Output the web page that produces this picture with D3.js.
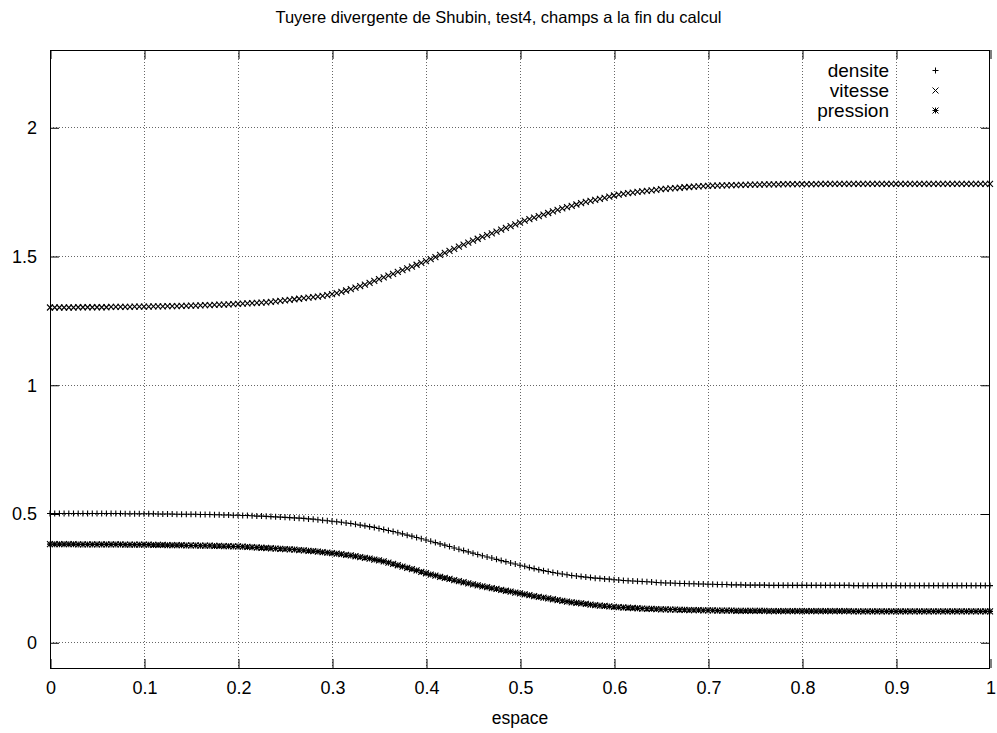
<!DOCTYPE html>
<html>
<head>
<meta charset="utf-8">
<script src="https://cdn.jsdelivr.net/npm/d3@7"></script>
<style>
  body { margin: 0; background: #fff; }
  text { font-family: "Liberation Sans", Arial, sans-serif; fill: #000; }
</style>
</head>
<body>
<div class="chart"></div>
<script>
// tick labels
const xTicks = [0, 0.1, 0.2, 0.3, 0.4, 0.5, 0.6, 0.7, 0.8, 0.9, 1];
const yTicks = [0, 0.5, 1, 1.5, 2];

// 201 cells, x from 0 to 1
const espace = d3.range(201).map(i => i / 200);

const densite = [
  0.500,0.500,0.500,0.500,0.500,0.500,0.500,0.500,0.500,0.500,0.500,
  0.500,0.500,0.500,0.500,0.500,0.499,0.499,0.499,0.499,0.499,
  0.499,0.499,0.498,0.498,0.498,0.498,0.497,0.497,0.497,0.497,
  0.497,0.496,0.496,0.496,0.495,0.495,0.494,0.494,0.493,0.493,
  0.492,0.492,0.491,0.490,0.490,0.489,0.488,0.487,0.486,0.485,
  0.484,0.483,0.482,0.481,0.479,0.478,0.476,0.474,0.472,0.470,
  0.468,0.466,0.463,0.461,0.458,0.455,0.452,0.449,0.446,0.442,
  0.438,0.434,0.430,0.425,0.421,0.416,0.412,0.407,0.402,0.397,
  0.392,0.387,0.382,0.377,0.372,0.366,0.361,0.356,0.351,0.346,
  0.341,0.336,0.331,0.327,0.322,0.317,0.313,0.308,0.304,0.299,
  0.295,0.290,0.286,0.282,0.278,0.275,0.271,0.268,0.265,0.262,
  0.259,0.257,0.255,0.253,0.251,0.249,0.248,0.246,0.245,0.243,
  0.242,0.240,0.239,0.238,0.237,0.236,0.235,0.234,0.232,0.231,
  0.230,0.230,0.229,0.228,0.228,0.227,0.227,0.226,0.226,0.225,
  0.225,0.224,0.224,0.224,0.223,0.223,0.223,0.222,0.222,0.222,
  0.222,0.222,0.221,0.221,0.221,0.221,0.221,0.221,0.221,0.221,
  0.221,0.221,0.221,0.221,0.221,0.221,0.221,0.221,0.221,0.221,
  0.220,0.220,0.220,0.220,0.220,0.220,0.220,0.220,0.220,0.220,
  0.220,0.220,0.220,0.220,0.220,0.220,0.220,0.220,0.220,0.220,
  0.220,0.220,0.220,0.220,0.220,0.220,0.220,0.220,0.220,0.220
];

const vitesse = [
  1.300,1.300,1.300,1.300,1.300,1.300,1.301,1.301,1.301,1.301,1.301,
  1.301,1.301,1.302,1.302,1.302,1.302,1.302,1.303,1.303,1.303,
  1.303,1.304,1.304,1.304,1.305,1.305,1.305,1.306,1.306,1.307,
  1.307,1.308,1.309,1.309,1.310,1.311,1.311,1.312,1.313,1.314,
  1.315,1.316,1.317,1.318,1.319,1.320,1.322,1.324,1.326,1.328,
  1.330,1.332,1.334,1.336,1.338,1.340,1.342,1.345,1.348,1.352,
  1.356,1.361,1.366,1.371,1.377,1.383,1.389,1.396,1.403,1.410,
  1.417,1.424,1.431,1.438,1.445,1.452,1.459,1.466,1.473,1.480,
  1.488,1.496,1.504,1.512,1.520,1.528,1.536,1.544,1.552,1.560,
  1.567,1.574,1.581,1.588,1.595,1.602,1.609,1.616,1.623,1.630,
  1.637,1.643,1.649,1.655,1.661,1.667,1.673,1.679,1.685,1.690,
  1.695,1.700,1.705,1.710,1.714,1.718,1.722,1.726,1.731,1.735,
  1.738,1.741,1.744,1.746,1.749,1.751,1.753,1.755,1.757,1.760,
  1.761,1.763,1.764,1.765,1.767,1.768,1.769,1.770,1.771,1.772,
  1.773,1.773,1.774,1.774,1.775,1.775,1.776,1.776,1.777,1.777,
  1.777,1.778,1.778,1.778,1.778,1.779,1.779,1.779,1.779,1.779,
  1.779,1.779,1.779,1.780,1.780,1.780,1.780,1.780,1.780,1.780,
  1.780,1.780,1.780,1.780,1.780,1.780,1.780,1.780,1.780,1.780,
  1.780,1.780,1.780,1.780,1.780,1.780,1.780,1.780,1.780,1.780,
  1.780,1.780,1.780,1.780,1.780,1.780,1.780,1.780,1.780,1.780
];

const pression = [
  0.381,0.381,0.381,0.381,0.381,0.381,0.380,0.380,0.380,0.380,0.380,
  0.380,0.380,0.380,0.380,0.380,0.379,0.379,0.379,0.379,0.379,
  0.379,0.378,0.378,0.378,0.377,0.377,0.377,0.377,0.376,0.376,
  0.376,0.375,0.375,0.375,0.374,0.374,0.373,0.373,0.372,0.372,
  0.371,0.370,0.369,0.368,0.367,0.366,0.365,0.364,0.363,0.362,
  0.361,0.360,0.358,0.357,0.355,0.354,0.352,0.350,0.348,0.346,
  0.344,0.342,0.339,0.337,0.334,0.331,0.328,0.325,0.321,0.318,
  0.314,0.309,0.304,0.299,0.294,0.289,0.284,0.279,0.273,0.268,
  0.263,0.259,0.254,0.250,0.246,0.241,0.237,0.233,0.229,0.225,
  0.221,0.217,0.214,0.210,0.207,0.203,0.200,0.197,0.193,0.190,
  0.186,0.183,0.179,0.176,0.173,0.170,0.167,0.164,0.161,0.158,
  0.155,0.153,0.151,0.149,0.146,0.144,0.142,0.141,0.139,0.137,
  0.136,0.135,0.134,0.133,0.132,0.131,0.130,0.130,0.129,0.128,
  0.128,0.127,0.127,0.126,0.126,0.125,0.125,0.125,0.124,0.124,
  0.124,0.123,0.123,0.123,0.123,0.122,0.122,0.122,0.122,0.122,
  0.122,0.122,0.121,0.121,0.121,0.121,0.121,0.121,0.121,0.121,
  0.121,0.121,0.121,0.121,0.121,0.121,0.121,0.121,0.121,0.121,
  0.120,0.120,0.120,0.120,0.120,0.120,0.120,0.120,0.120,0.120,
  0.120,0.120,0.120,0.120,0.120,0.120,0.120,0.120,0.120,0.120,
  0.120,0.120,0.120,0.120,0.120,0.120,0.120,0.120,0.120,0.120
];

const seriesNames = ["densite", "vitesse", "pression"];

const W = 997, H = 733;
const margin = { top: 50, right: 7, bottom: 65, left: 50 };
const fontSize = 18;

const svg = d3.select(".chart").append("svg")
  .attr("width", W)
  .attr("height", H);

const x = d3.scaleLinear().domain([0, 1]).range([margin.left, W - margin.right]);
const y = d3.scaleLinear().domain([-0.1, 2.3]).range([H - margin.bottom, margin.top]);

const x0 = x.range()[0], x1 = x.range()[1];
const y0 = y.range()[0], y1 = y.range()[1];
const snap = v => Math.round(v) + 0.5;

// grid (dotted)
const grid = svg.append("g").attr("stroke", "#666").attr("stroke-width", 1).attr("stroke-dasharray", "1,2");
grid.selectAll(".gx").data(xTicks.slice(1, -1)).enter().append("line")
  .attr("x1", d => snap(x(d))).attr("x2", d => snap(x(d)))
  .attr("y1", y1).attr("y2", y0);
grid.selectAll(".gy").data(yTicks).enter().append("line")
  .attr("y1", d => snap(y(d))).attr("y2", d => snap(y(d)))
  .attr("x1", x0).attr("x2", x1);

// axes, ticks mirrored inward on all sides
const tickLen = 9;
const axisB = d3.axisBottom(x).tickValues(xTicks).tickSize(-tickLen).tickPadding(13).tickFormat(d3.format("~g"));
const axisT = d3.axisTop(x).tickValues(xTicks).tickSize(-tickLen).tickFormat("");
const axisL = d3.axisLeft(y).tickValues(yTicks).tickSize(-tickLen).tickPadding(13).tickFormat(d3.format("~g"));
const axisR = d3.axisRight(y).tickValues(yTicks).tickSize(-tickLen).tickFormat("");

function styleAxis(g) {
  g.select(".domain").remove();
  g.selectAll(".tick line").attr("stroke", "#000");
  g.selectAll("text").attr("font-size", fontSize).attr("font-family", "Liberation Sans, Arial, sans-serif");
}
svg.append("g").attr("transform", `translate(0.5,${y0})`).call(axisB).call(styleAxis);
svg.append("g").attr("transform", `translate(0.5,${y1})`).call(axisT).call(styleAxis);
svg.append("g").attr("transform", `translate(${x0},0.5)`).call(axisL).call(styleAxis);
svg.append("g").attr("transform", `translate(${x1},0.5)`).call(axisR).call(styleAxis);

// frame
svg.append("rect")
  .attr("x", snap(x0)).attr("y", snap(y1))
  .attr("width", Math.round(x1 - x0) - 1).attr("height", Math.round(y0 - y1))
  .attr("fill", "none").attr("stroke", "#000");

// point symbols
const s = 3;
const symbols = {
  densite: `M${-s},0H${s}M0,${-s}V${s}`,
  vitesse: `M${-s},${-s}L${s},${s}M${-s},${s}L${s},${-s}`,
  pression: `M${-s},0H${s}M0,${-s}V${s}M${-s},${-s}L${s},${s}M${-s},${s}L${s},${-s}`
};
const values = { densite, vitesse, pression };

seriesNames.forEach(name => {
  svg.append("g")
    .selectAll("path")
    .data(espace.map((e, i) => ({ e, v: values[name][i] })))
    .enter()
    .append("path")
    .attr("d", symbols[name])
    .attr("transform", d => `translate(${x(d.e)},${y(d.v)})`)
    .attr("fill", "none")
    .attr("stroke", "#000")
    .attr("stroke-width", 1.1);
});

// legend
const legend = svg.append("g");
seriesNames.forEach((name, i) => {
  const ly = 70 + i * 20;
  legend.append("text").attr("x", 889).attr("y", ly).attr("dy", "0.35em")
    .attr("text-anchor", "end").attr("font-size", 19).text(name);
  legend.append("path").attr("d", symbols[name])
    .attr("transform", `translate(935.5,${ly + 0.5})`)
    .attr("fill", "none").attr("stroke", "#000");
});

// title and axis label
svg.append("text").attr("x", W / 2).attr("y", 17).attr("dy", "0.35em")
  .attr("text-anchor", "middle").attr("font-size", 16.5)
  .text("Tuyere divergente de Shubin, test4, champs a la fin du calcul");
svg.append("text").attr("x", (x0 + x1) / 2).attr("y", 718).attr("dy", "0.35em")
  .attr("text-anchor", "middle").attr("font-size", 17.5).text("espace");
</script>
</body>
</html>
